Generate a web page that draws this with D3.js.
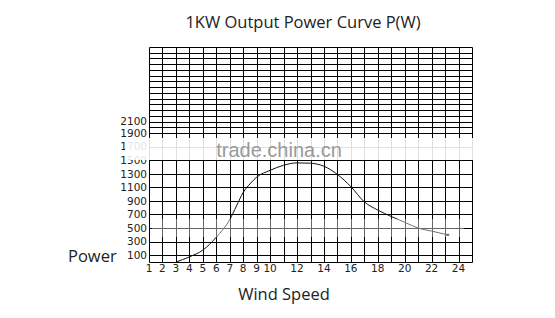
<!DOCTYPE html>
<html>
<head>
<meta charset="utf-8">
<script src="https://cdn.jsdelivr.net/npm/d3@7"></script>
<style>
  html, body { margin: 0; padding: 0; background: #fff; }
  svg { display: block; }
</style>
</head>
<body>
<svg id="chart" width="555" height="318"></svg>
<script>
// ---- data ----
const windSpeed = [3, 4, 5, 6, 7, 7.5, 8, 8.5, 9, 10, 11, 12, 13, 14, 15, 16, 17, 18, 19, 20, 21, 22, 23.2];
const power     = [0, 75, 175, 365, 625, 825, 1025, 1150, 1250, 1350, 1425, 1460, 1455, 1410, 1290, 1110, 885, 765, 670, 585, 500, 455, 400];
const xTickLabels = [1, 2, 3, 4, 5, 6, 7, 8, 9, 10, 12, 14, 16, 18, 20, 22, 24];
const yTickLabels = [100, 300, 500, 700, 900, 1100, 1300, 1500, 1700, 1900, 2100];
const chartTitle = "1KW Output Power Curve P(W)";
const xTitle = "Wind Speed";
const yTitle = "Power";

(function () {
// ---- layout ----
const svg = d3.select("#chart");
const pLeft = 149, pRight = 472, pTop = 47, pBottom = 262;

const x = d3.scaleLinear().domain([1, 25]).range([pLeft, pRight]);
// hand-drawn chart: lower part 200-unit rows, upper part tighter rows
const y = d3.scaleLinear().domain([0, 1900, 3400]).range([pBottom, 133, pTop]);

// grid values
const gridX = d3.range(1, 26);
const gridY = [0].concat(d3.range(100, 1901, 200), d3.range(2000, 3401, 100));

const g = svg.append("g");

g.selectAll("line.v").data(gridX).join("line")
  .attr("x1", d => Math.round(x(d)) + 0.5).attr("x2", d => Math.round(x(d)) + 0.5)
  .attr("y1", pTop + 0.5).attr("y2", pBottom + 0.5)
  .attr("stroke", "#000").attr("stroke-width", 1);

g.selectAll("line.h").data(gridY).join("line")
  .attr("x1", pLeft + 0.5).attr("x2", Math.round(x(25)) + 0.5)
  .attr("y1", d => Math.round(y(d)) + 0.5).attr("y2", d => Math.round(y(d)) + 0.5)
  .attr("stroke", "#000").attr("stroke-width", 1);

// curve
const line = d3.line()
  .x((d, i) => x(windSpeed[i]))
  .y(d => y(d))
  .curve(d3.curveMonotoneX);
g.append("path").datum(power)
  .attr("d", line)
  .attr("fill", "none").attr("stroke", "#111").attr("stroke-width", 1);

// end dot
g.append("rect")
  .attr("x", x(windSpeed[windSpeed.length - 1]) - 1.5)
  .attr("y", y(power[power.length - 1]) - 1)
  .attr("width", 3).attr("height", 2).attr("fill", "#111");

// tick labels
const tickFont = "'DejaVu Sans', sans-serif";
svg.selectAll("text.xt").data(xTickLabels).join("text")
  .attr("x", d => x(d)).attr("y", 272)
  .attr("text-anchor", "middle")
  .attr("font-family", tickFont).attr("font-size", 10.5)
  .attr("fill", "#222").text(d => d);

svg.selectAll("text.yt").data(yTickLabels).join("text")
  .attr("x", pLeft - 2).attr("y", d => y(d))
  .attr("dy", "0.36em")
  .attr("text-anchor", "end")
  .attr("font-family", tickFont).attr("font-size", 10.5)
  .attr("fill", "#222").text(d => d);

// watermark bands (as in reference)
svg.append("rect")
  .attr("x", 125).attr("y", 138).attr("width", 360).attr("height", 22)
  .attr("fill", "#fff").attr("opacity", 0.88);
svg.append("text")
  .attr("x", 279).attr("y", 157)
  .attr("text-anchor", "middle")
  .attr("font-family", "'Liberation Sans', Arial, sans-serif").attr("font-size", 20)
  .attr("fill", "#9a9a9a").text("trade.china.cn");
svg.append("rect")
  .attr("x", 152).attr("y", 219).attr("width", 312).attr("height", 18)
  .attr("fill", "#fff").attr("opacity", 0.4);

// titles
svg.append("text")
  .attr("x", 303).attr("y", 28)
  .attr("text-anchor", "middle")
  .attr("font-family", "'Open Sans', sans-serif").attr("font-size", 16.5)
  .attr("fill", "#222").text(chartTitle);

svg.append("text")
  .attr("x", 68).attr("y", 262)
  .attr("font-family", "'Open Sans', sans-serif").attr("font-size", 16.5)
  .attr("fill", "#222").text(yTitle);

svg.append("text")
  .attr("x", 284).attr("y", 300)
  .attr("text-anchor", "middle")
  .attr("font-family", "'Open Sans', sans-serif").attr("font-size", 16.5)
  .attr("fill", "#222").text(xTitle);
})();
</script>
</body>
</html>
